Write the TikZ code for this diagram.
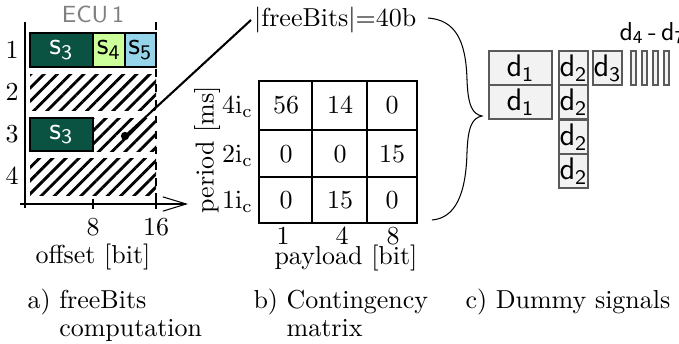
\documentclass[tikz,border=0pt]{standalone}
\usepackage{amsmath}
\usepackage{tikz}
\usetikzlibrary{arrows.meta, patterns.meta}

\definecolor{sigdark}{RGB}{10,82,66}
\definecolor{siglime}{RGB}{204,255,153}
\definecolor{sigblue}{RGB}{150,212,234}
\definecolor{dummyfill}{RGB}{242,242,242}
\definecolor{dummyline}{RGB}{90,90,90}

\begin{document}
\begin{tikzpicture}[x=0.385pt, y=-0.385pt, >={Straight Barb[length=9pt, width=5.5pt]},
    sigtext/.style={font=\sffamily\large, inner sep=0pt},
    hatch/.style={pattern={Lines[angle=45, distance=3.6pt, line width=1.1pt]}},
    dummy/.style={draw=dummyline, fill=dummyfill, line width=0.5pt},
    caption/.style={anchor=north west, align=left, inner sep=0pt,
                    font=\fontsize{10}{7}\selectfont}]
    \useasboundingbox (0,0) rectangle (679,343);

    % signal field: name, x1, y1, x2, y2, fill, text colour, label
    \newcommand{\sigfield}[8]{
      \draw[fill=#6] (#2,#3) rectangle (#4,#5);
      \node[sigtext, text=#7] (#1) at ({(#2+#4)/2},{(#3+#5)/2}) {$\mathsf{#8}$};
    }
    % dummy signal: name, x1, y1, x2, y2, label
    \newcommand{\dummysig}[6]{
      \draw[dummy] (#2,#3) rectangle (#4,#5);
      \node[sigtext] (#1) at ({(#2+#4)/2},{(#3+#5)/2}) {$\mathsf{#6}$};
    }

    % a) freeBits computation
    \node[font=\sffamily\small, text=gray] (ecu) at (93,15) {ECU\,1};
    \draw (25,22) -- (25,208);
    \draw[->] (20,204) -- (188,204);
    \foreach \x/\t in {93/8, 156/16} {
      \draw (\x,199) -- (\x,209);
      \node (tick\t) at (\x,227) {\t};
    }
    \node (offset) at (93,257) {offset [bit]};
    \foreach \r/\y in {1/50, 2/92, 3/134, 4/176}
      \node (row\r) at (12,\y) {\r};

    \sigfield{sone}{30}{33}{93}{67}{sigdark}{white}{s_3}
    \sigfield{sfour}{93}{33}{125}{67}{siglime}{black}{s_4}
    \sigfield{sfive}{125}{33}{156}{67}{sigblue}{black}{s_5}
    \path[hatch] (30,74) rectangle (156,110);
    \sigfield{sthree}{30}{118}{93}{151}{sigdark}{white}{s_3}
    \path[hatch] (93,118) rectangle (156,151);
    \path[hatch] (30,158) rectangle (156,195);
    \draw[dashed] (156,22) -- (156,204);

    % free bits
    \coordinate (freedot) at (125,136);
    \fill (freedot) circle (1.6pt);
    \node[anchor=west, inner sep=1pt] (freebits) at (251,20) {$|$freeBits$|$=40b};
    \draw[thick] (freedot) -- (freebits.west);

    % b) contingency matrix
    \draw[thick] (259,81) rectangle (417,223);
    \draw (312,81) -- (312,223) (367,81) -- (367,223)
          (259,130) -- (417,130) (259,177) -- (417,177);
    \foreach \a/\b/\c/\y/\p [count=\r] in {56/14/0/105/4, 0/0/15/154/2, 0/15/0/200/1} {
      \node (m\r a) at (286,\y) {\a};
      \node (m\r b) at (340,\y) {\b};
      \node (m\r c) at (392,\y) {\c};
      \node[anchor=east, inner sep=1pt] (per\r) at (256,\y+2) {\p$\mathrm{i_c}$};
    }
    \foreach \x/\t in {283/1, 342/4, 393/8}
      \node (pay\t) at (\x,236) {\t};
    \node (payload) at (346,258) {payload [bit]};
    \node[rotate=90] (period) at (207,150) {period [ms]};

    % brace
    \draw (428,18) .. controls (455,20) and (466,40) .. (467,80)
          .. controls (468,105) and (472,114) .. (482,116)
          .. controls (472,118) and (468,127) .. (467,152)
          .. controls (466,195) and (455,218) .. (432,220);

    % c) dummy signals
    \dummysig{done}{489}{51}{552}{85}{d_1}
    \dummysig{donee}{489}{85}{552}{119}{d_1}
    \foreach \y [count=\i] in {51, 85, 120, 154}
      \dummysig{dtwo\i}{559}{\y}{588}{\y+34}{d_2}
    \dummysig{dthree}{593}{51}{622}{85}{d_3}
    \foreach \x in {631, 642, 653, 664}
      \draw[dummy] (\x,51) rectangle (\x+5,85);
    \node[font=\sffamily, inner sep=0pt, anchor=west] (dfour) at (619,33) {$\mathsf{d_4}$\,-\,$\mathsf{d_7}$};

    % captions
    \node[caption] (capa) at (27,288) {a) freeBits\\\phantom{a) }computation};
    \node[caption] (capb) at (253,288) {b) Contingency\\\phantom{b) }matrix};
    \node[caption] (capc) at (465,288) {c) Dummy signals};
\end{tikzpicture}
\end{document}
